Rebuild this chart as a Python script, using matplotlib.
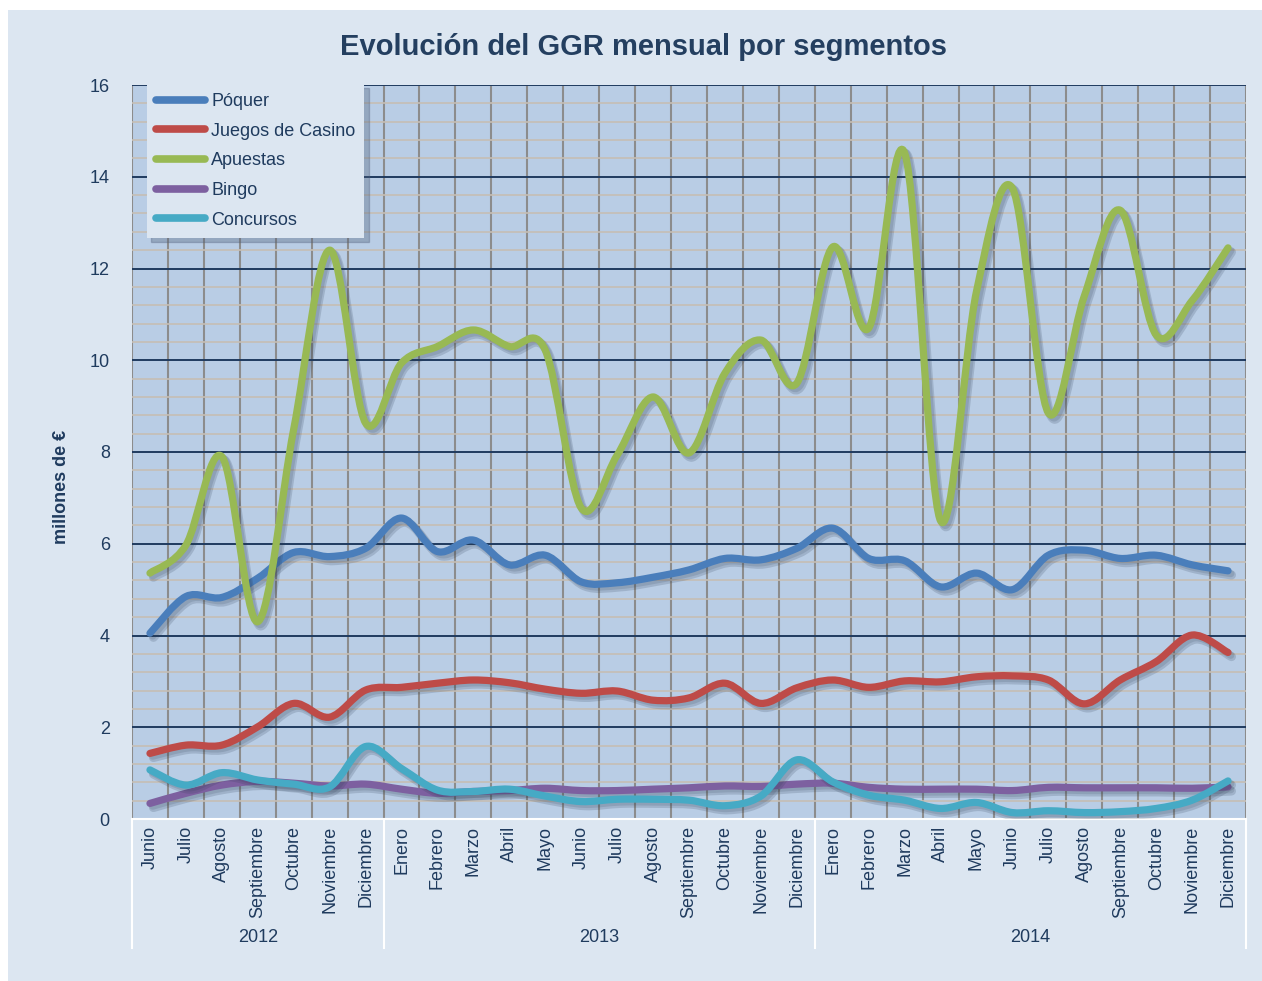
import matplotlib
matplotlib.use("Agg")
import matplotlib.pyplot as plt
import matplotlib.patheffects as pe
from matplotlib.path import Path
from matplotlib.patches import PathPatch, Rectangle
from matplotlib.lines import Line2D
from matplotlib import font_manager
import numpy as np

# fuente estrecha tipo Arial Narrow si existe
names = {f.name for f in font_manager.fontManager.ttflist}
narrow = 'Liberation Sans Narrow' if 'Liberation Sans Narrow' in names else 'Liberation Sans'
plt.rcParams['font.family'] = [narrow, 'DejaVu Sans']

# Datos (millones de euros), junio 2012 - diciembre 2014
months = ['Junio', 'Julio', 'Agosto', 'Septiembre', 'Octubre', 'Noviembre', 'Diciembre',
          'Enero', 'Febrero', 'Marzo', 'Abril', 'Mayo', 'Junio', 'Julio', 'Agosto',
          'Septiembre', 'Octubre', 'Noviembre', 'Diciembre',
          'Enero', 'Febrero', 'Marzo', 'Abril', 'Mayo', 'Junio', 'Julio', 'Agosto',
          'Septiembre', 'Octubre', 'Noviembre', 'Diciembre']
years = ['2012', '2013', '2014']
year_counts = [7, 12, 12]

poquer = [4.05, 4.85, 4.83, 5.25, 5.81, 5.72, 5.9,
          6.56, 5.83, 6.08, 5.54, 5.75, 5.17, 5.15, 5.27, 5.43, 5.68, 5.65, 5.9,
          6.34, 5.68, 5.63, 5.06, 5.36, 5.0, 5.75, 5.86, 5.68, 5.75, 5.54, 5.41]
casino = [1.43, 1.61, 1.61, 2.01, 2.52, 2.22, 2.81,
          2.87, 2.96, 3.03, 2.97, 2.83, 2.74, 2.79, 2.59, 2.64, 2.96, 2.52, 2.86,
          3.03, 2.87, 3.01, 2.99, 3.10, 3.12, 3.03, 2.51, 3.03, 3.43, 4.01, 3.63]
apuestas = [5.36, 5.97, 7.9, 4.3, 8.5, 12.4, 8.63,
            9.94, 10.3, 10.66, 10.3, 10.22, 6.78, 7.93, 9.2, 7.98, 9.72, 10.44, 9.5,
            12.47, 10.7, 14.52, 6.5, 11.5, 13.75, 8.85, 11.4, 13.27, 10.55, 11.3, 12.45]
bingo = [0.34, 0.56, 0.74, 0.82, 0.78, 0.72, 0.76,
         0.65, 0.56, 0.6, 0.62, 0.67, 0.62, 0.62, 0.65, 0.68, 0.72, 0.71, 0.76,
         0.78, 0.69, 0.65, 0.65, 0.65, 0.62, 0.69, 0.68, 0.68, 0.68, 0.67, 0.7]
concursos = [1.07, 0.74, 1.01, 0.85, 0.76, 0.7, 1.58,
             1.1, 0.63, 0.6, 0.65, 0.5, 0.38, 0.43, 0.43, 0.41, 0.29, 0.5, 1.29,
             0.81, 0.52, 0.41, 0.23, 0.36, 0.14, 0.18, 0.14, 0.16, 0.23, 0.41, 0.83]

series = [('Póquer', poquer, '#4a7ebb'),
          ('Juegos de Casino', casino, '#be4b48'),
          ('Apuestas', apuestas, '#98b954'),
          ('Bingo', bingo, '#7d60a0'),
          ('Concursos', concursos, '#46aac5')]

text_color = '#1f3b5e'
panel = '#dce6f1'
fs = 13


def smooth_path(x, y):
    # curva Bezier suavizada (como la linea suavizada de Excel)
    pts = np.column_stack([x, y]).astype(float)
    n = len(pts)
    verts = [pts[0]]
    codes = [Path.MOVETO]
    for i in range(n - 1):
        p0 = pts[i - 1] if i > 0 else pts[i]
        p1 = pts[i]
        p2 = pts[i + 1]
        p3 = pts[i + 2] if i + 2 < n else pts[i + 1]
        c1 = p1 + (p2 - p0) / 6.0
        c2 = p2 - (p3 - p1) / 6.0
        verts += [c1, c2, p2]
        codes += [Path.CURVE4] * 3
    return Path(verts, codes)


fig = plt.figure(figsize=(12.62, 9.81), dpi=100)
fig.patch.set_facecolor('white')
fig.patches.append(Rectangle((8 / 1262, 0), 1 - 8 / 1262, 1 - 10 / 981,
                             transform=fig.transFigure, facecolor=panel,
                             edgecolor='none', zorder=-10))

ax = fig.add_axes([132 / 1262, 1 - 819 / 981, (1246 - 132) / 1262, (819 - 85) / 981])
ax.set_facecolor('#b9cde5')

x = np.arange(len(months))
ax.set_xlim(-0.5, len(months) - 0.5)
ax.set_ylim(0, 16)

ax.set_yticks(np.arange(0, 17, 2))
ax.set_yticks(np.arange(0, 16.01, 0.4), minor=True)
ax.set_xticks(x)
ax.set_xticklabels(months, rotation=90, va='top', ha='center')
ax.set_xticks(np.arange(-0.5, len(months), 1), minor=True)

ax.grid(which='minor', axis='y', color='#c6beb4', lw=1.2, zorder=0)
ax.grid(which='major', axis='y', color='#1f3a5f', lw=1.4, zorder=0.5)
ax.grid(which='minor', axis='x', color='#8c8c8c', lw=1.5, zorder=0.6)
ax.grid(which='major', axis='x', visible=False)
ax.set_axisbelow(True)

ax.tick_params(axis='both', which='both', length=0, colors=text_color)
ax.tick_params(axis='y', labelsize=fs, pad=16)
ax.tick_params(axis='x', labelsize=fs, pad=5)

for s in ['top', 'right', 'left']:
    ax.spines[s].set_visible(False)
ax.spines['bottom'].set_color('white')
ax.spines['bottom'].set_linewidth(1.5)

for name, vals, col in series:
    patch = PathPatch(smooth_path(x, vals), fill=False, edgecolor=col, lw=5.2,
                      capstyle='round', joinstyle='round', zorder=3,
                      path_effects=[pe.SimpleLineShadow(offset=(2.5, -3), shadow_color='#2a3a50',
                                                        alpha=0.18, linewidth=6.5),
                                    pe.SimpleLineShadow(offset=(2, -2), shadow_color='#2a3a50',
                                                        alpha=0.15),
                                    pe.Normal()])
    ax.add_patch(patch)

# separadores y etiquetas de anos
bt = ax.get_xaxis_transform()
start = -0.5
for yr, cnt in zip(years, year_counts):
    ax.add_line(Line2D([start, start], [0, -0.176], transform=bt, color='white',
                       lw=1.5, clip_on=False))
    ax.text(start + cnt / 2, -0.161, yr, transform=bt, ha='center', va='center',
            fontsize=fs, color=text_color)
    start += cnt
ax.add_line(Line2D([start, start], [0, -0.176], transform=bt, color='white',
                   lw=1.5, clip_on=False))

ax.set_ylabel('millones de €', fontsize=fs, fontweight='bold', color=text_color)
ax.yaxis.set_label_coords(-0.056, 0.452)

fig.text(644 / 1262, 1 - 47 / 981, 'Evolución del GGR mensual por segmentos',
         ha='center', va='center', fontsize=21, fontweight='bold', color='#243f60')

handles = [Line2D([], [], color=c, lw=5.5, solid_capstyle='round') for _, _, c in series]
leg = ax.legend(handles, [s[0] for s in series], loc='upper left',
                bbox_to_anchor=(147 / 1262, 1 - 84 / 981), bbox_transform=fig.transFigure,
                borderaxespad=0, fontsize=fs, handlelength=2.7, handletextpad=0.35,
                labelspacing=0.7, borderpad=0.5, fancybox=False,
                shadow={'color': '#50607a', 'alpha': 0.35, 'ox': 3, 'oy': -3},
                framealpha=1)
leg.get_frame().set_facecolor(panel)
leg.get_frame().set_edgecolor('none')
for t in leg.get_texts():
    t.set_color(text_color)

fig.savefig('out.png', dpi=100)
